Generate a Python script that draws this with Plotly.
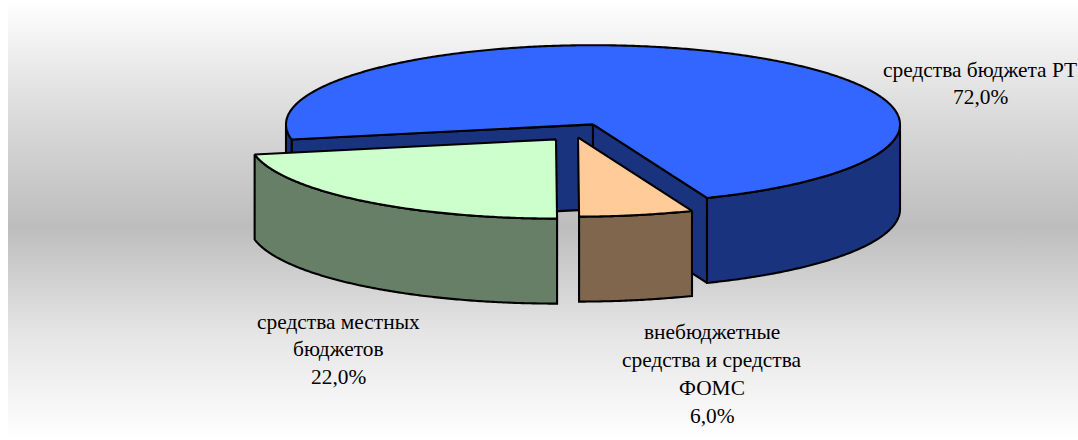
import numpy as np
import plotly.graph_objects as go

categories = ["средства бюджета РТ", "внебюджетные средства и средства ФОМС", "средства местных бюджетов"]
shares = [72.0, 6.0, 22.0]
label_lines = [["средства бюджета РТ"],
               ["внебюджетные", "средства и средства", "ФОМС"],
               ["средства местных", "бюджетов"]]

top_colors = ["#3366FF", "#FFCC99", "#CCFFCC"]
side_colors = ["#19337F", "#7F664C", "#667F66"]

FIRST_ANGLE = 259.0 - 360.0
CX, CY, RX, RY, DEPTH = 593.0, 124.4, 307.0, 79.2, 85.0
OFFSETS = [(0, 0), (-15, 13), (-37, 15)]
LABEL_POS = [(980, 69.5, 27.5), (712, 331.5, 28.3), (338, 321.5, 27.5)]
EDGE = dict(color="#000000", width=2.1)
W, H = 1078, 440

spans = []
a = FIRST_ANGLE
for v in shares:
    spans.append((a, a + v * 3.6))
    a += v * 3.6


def pt(deg, off, drop=0.0):
    t = np.radians(deg)
    return CX + off[0] + RX * np.sin(t), CY + off[1] - RY * np.cos(t) + drop


def arc(a0, a1, off, drop=0.0):
    n = max(2, int(abs(a1 - a0)) * 2 + 1)
    return pt(np.linspace(a0, a1, n), off, drop)


def poly(fig, x, y, color):
    fig.add_trace(go.Scatter(x=np.r_[x, x[0]], y=np.r_[y, y[0]], mode="lines", fill="toself",
                             fillcolor=color, line=dict(EDGE, simplify=False), hoverinfo="skip",
                             showlegend=False))


def outer_side(fig, a0, a1, off, color):
    x0, y0 = arc(a0, a1, off)
    x1, y1 = arc(a1, a0, off, DEPTH)
    poly(fig, np.r_[x0, x1], np.r_[y0, y1], color)


def wall(fig, deg, off, color):
    x, y = pt(deg, off)
    poly(fig, np.array([CX + off[0], x, x, CX + off[0]]),
         np.array([CY + off[1], y, y + DEPTH, CY + off[1] + DEPTH]), color)


def top(fig, a0, a1, off, color):
    x, y = arc(a0, a1, off)
    poly(fig, np.r_[CX + off[0], x], np.r_[CY + off[1], y], color)


fig = go.Figure()
fig.add_trace(go.Scatter(
    x=[8, W, W, 8, 8], y=[0, 0, H, H, 0], mode="lines", fill="toself",
    line=dict(width=0), hoverinfo="skip", showlegend=False,
    fillgradient=dict(type="vertical",
                      colorscale=[[0, "#FFFFFF"], [0.25, "#E4E4E4"], [0.484, "#BDBDBD"],
                                  [0.75, "#DCDCDC"], [1, "#FFFFFF"]])))

# Main slice: back walls of the notch, visible rim, then top
(b0, b1) = spans[0]
wall(fig, b0, OFFSETS[0], side_colors[0])
wall(fig, b1, OFFSETS[0], side_colors[0])
outer_side(fig, b0, -90, OFFSETS[0], side_colors[0])
outer_side(fig, 90, b1, OFFSETS[0], side_colors[0])
top(fig, b0, b1, OFFSETS[0], top_colors[0])

# Exploded slices
for i in (1, 2):
    s0, s1 = spans[i]
    outer_side(fig, s0, s1, OFFSETS[i], side_colors[i])
    top(fig, s0, s1, OFFSETS[i], top_colors[i])

for i, lines in enumerate(label_lines):
    lx, ly, step = LABEL_POS[i]
    rows = lines + [f"{shares[i]:.1f}%".replace(".", ",")]
    for k, row in enumerate(rows):
        fig.add_annotation(x=lx, y=ly + k * step, text=row, showarrow=False, xanchor="center",
                           yanchor="middle", font=dict(family="Liberation Serif", size=21.4, color="#000000"))

fig.update_xaxes(range=[0, W], visible=False, fixedrange=True)
fig.update_yaxes(range=[H, 0], visible=False, fixedrange=True)
fig.update_layout(width=W, height=H, margin=dict(l=0, r=0, t=0, b=0),
                  paper_bgcolor="#FFFFFF", plot_bgcolor="#FFFFFF", showlegend=False)

fig.write_html("out.html", config=dict(displayModeBar=False),
               post_script="document.body.style.margin='0';document.documentElement.style.overflow='hidden';")
